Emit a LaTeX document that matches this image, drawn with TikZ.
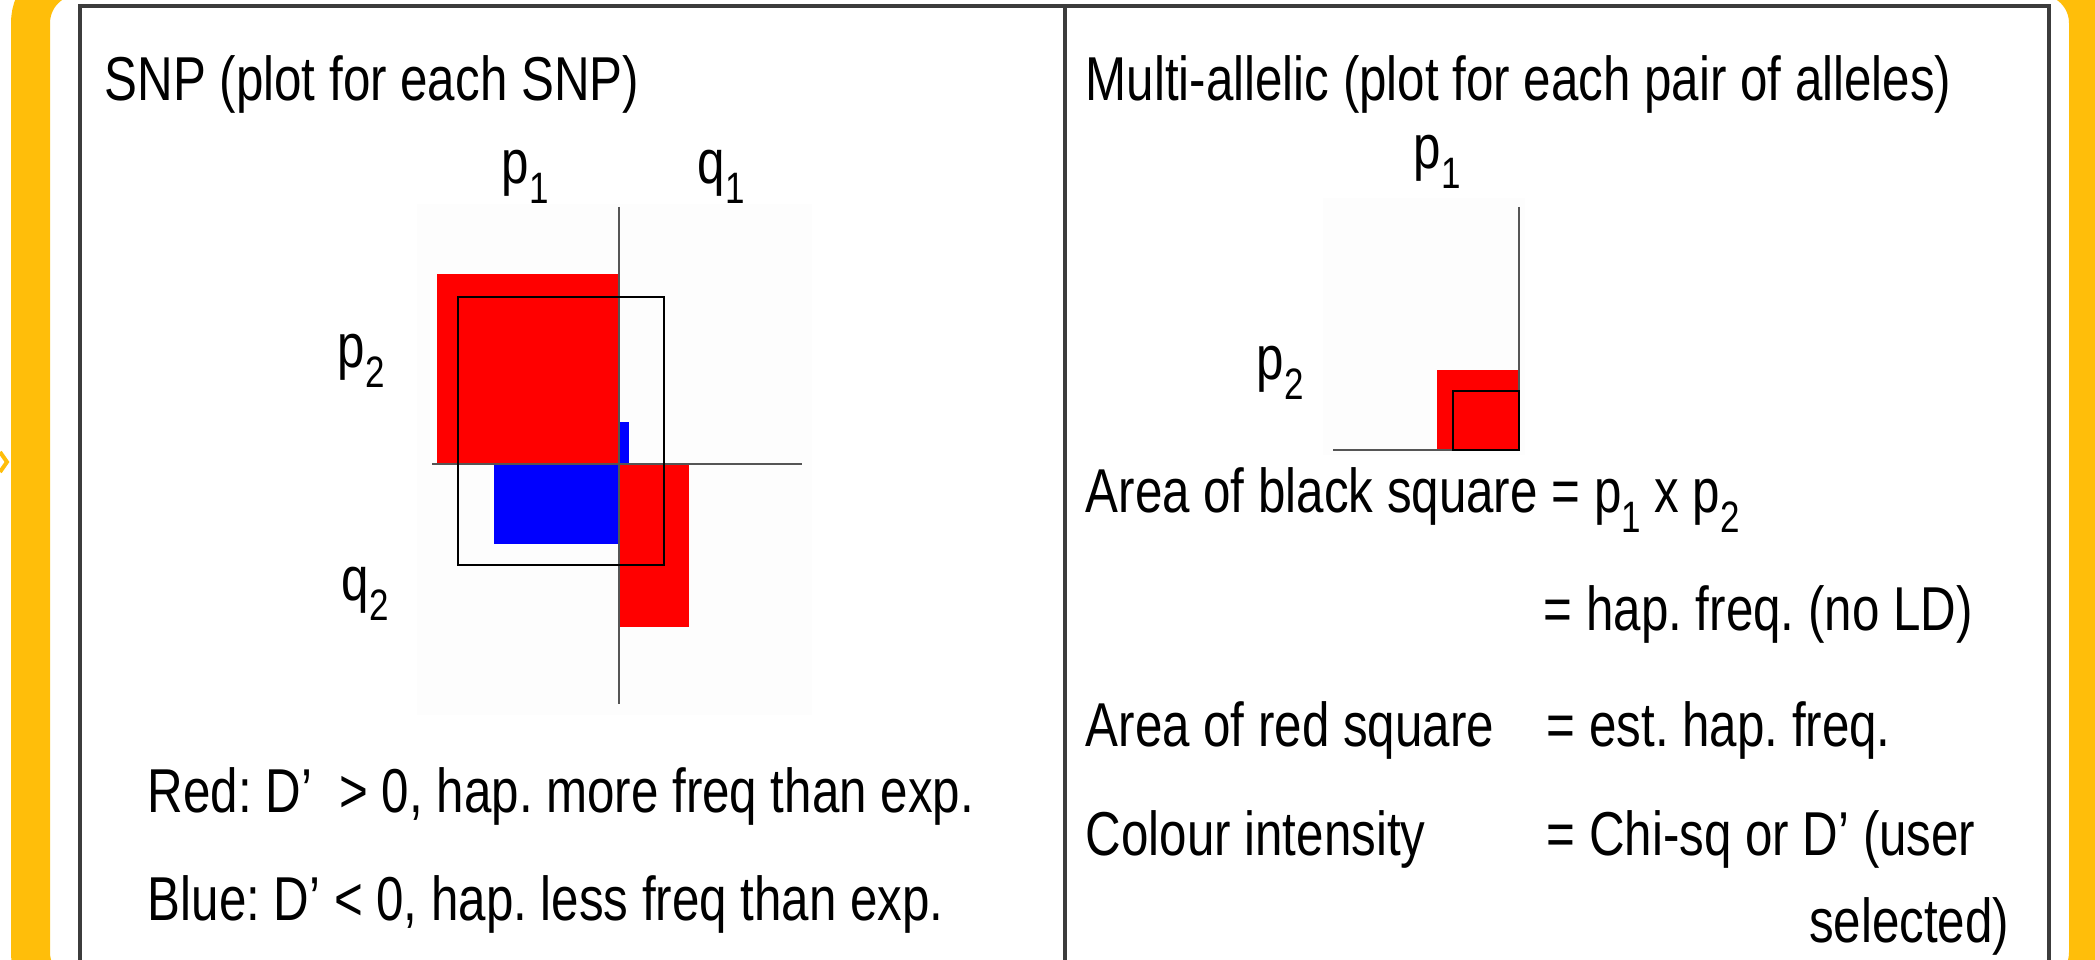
\documentclass[tikz,border=0pt]{standalone}
\usepackage{fontspec}
\setmainfont[FakeStretch=0.795]{Liberation Sans}
\usepackage{tikz}
\definecolor{frame}{HTML}{FFBE0A}
\definecolor{rule}{HTML}{3C3C3C}
\definecolor{axisgray}{HTML}{555555}
\definecolor{hapred}{HTML}{FF0000}
\definecolor{hapblue}{HTML}{0000FF}
\definecolor{plotbg}{HTML}{FDFDFD}
\newcommand{\lowidx}[1]{\raisebox{-5pt}{\fontsize{11}{13}\selectfont #1}}
\frenchspacing

\begin{document}
\begin{tikzpicture}[
  x=0.25pt, y=-0.25pt,
  every node/.style={font=\fontsize{15.5}{18}\selectfont, inner sep=0pt, anchor=base west},
  tbl/.style={draw=rule, line width=0.9pt},
  axis/.style={draw=axisgray, line width=0.6pt},
  expbox/.style={draw=black, line width=0.7pt},
]
  \useasboundingbox (0,0) rectangle (2095,960);
  \clip (0,0) rectangle (2095,960);

  % yellow frame and table
  \draw[frame, line width=9.75pt, rounded corners=11.9pt] (30.5,-24.5) rectangle (2088.5,1000);
  \draw[frame, line width=1pt] (0,452) -- (7,462) -- (0,472);
  \draw[tbl] (80,1000) |- (2049,6) -- (2049,1000);
  \draw[tbl] (1065,6) -- (1065,1000);

  % SNP plot
  \node (snptitle) at (104,101) {SNP (plot for each SNP)};
  \fill[plotbg] (417,204) rectangle (812,715);
  \fill[hapred]  (437,274) rectangle (619,464);
  \fill[hapblue] (619,422) rectangle (629,464);
  \fill[hapblue] (494,464) rectangle (619,544);
  \fill[hapred]  (619,464) rectangle (689,627);
  \draw[axis] (619,207) -- (619,704);
  \draw[axis] (432,464) -- (802,464);
  \draw[expbox] (458,297) rectangle (664,565);
  \node (p1) at (501,184) {p\lowidx{1}};
  \node (q1) at (697,184) {q\lowidx{1}};
  \node (p2) at (337,368) {p\lowidx{2}};
  \node (q2) at (341,600) {q\lowidx{2}};
  \node (redkey)  at (147,812) {Red: D'\ \ > 0, hap. more freq than exp.};
  \node (bluekey) at (147,920) {Blue: D' < 0, hap. less freq than exp.};

  % multi-allelic plot
  \node (multititle) at (1085,101) {Multi-allelic (plot for each pair of alleles)};
  \fill[plotbg] (1323,198) rectangle (1525,455);
  \fill[hapred] (1437,370) rectangle (1519,450);
  \draw[axis] (1519,207) -- (1519,450) -- (1333,450);
  \draw[expbox] (1453,391) rectangle (1519,450);
  \node (mp1) at (1413,169) {p\lowidx{1}};
  \node (mp2) at (1256,380) {p\lowidx{2}};
  \node (blackarea) at (1085,513) {Area of black square = p\lowidx{1} x p\lowidx{2}};
  \node (nold)    at (1543,630) {= hap. freq. (no LD)};
  \node (redarea) at (1085,746) {Area of red square};
  \node (esthap)  at (1546,746) {= est. hap. freq.};
  \node (colint)  at (1085,855) {Colour intensity};
  \node (chisq)   at (1546,855) {= Chi-sq or D' (user};
  \node[anchor=base east] (usersel) at (2010,942) {selected)};
\end{tikzpicture}
\end{document}
